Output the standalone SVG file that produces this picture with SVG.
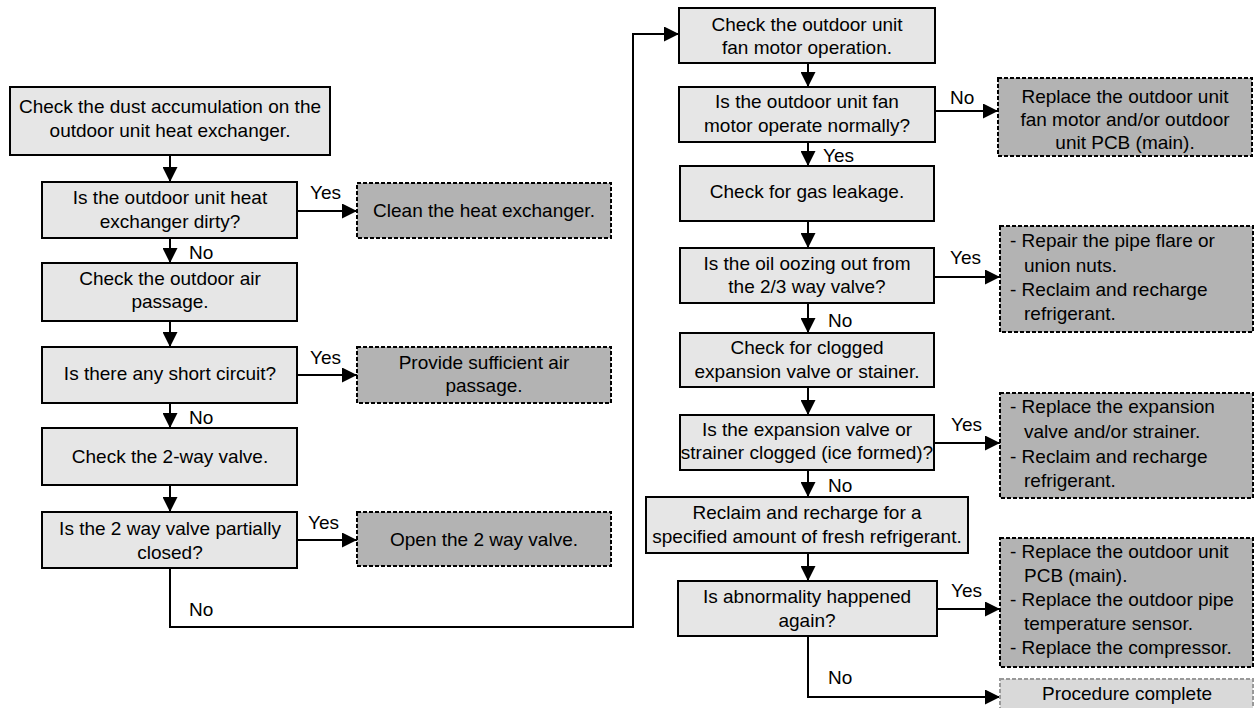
<svg xmlns="http://www.w3.org/2000/svg" width="1256" height="708" viewBox="0 0 1256 708">
<defs>
<style>
text{font-family:"Liberation Sans",Arial,sans-serif;font-size:19px;fill:#000}
.c{text-anchor:middle}
.p{fill:#e6e6e6;stroke:#000;stroke-width:2}
.a{fill:#b3b3b3;stroke:#000;stroke-width:2;stroke-dasharray:4 2}
.f{fill:#d9d9d9;stroke:#999;stroke-width:2;stroke-dasharray:4 2}
.ln{fill:none;stroke:#000;stroke-width:2;marker-end:url(#ah)}
</style>
<marker id="ah" viewBox="0 0 15 15" refX="15" refY="7.5" markerWidth="15" markerHeight="15" markerUnits="userSpaceOnUse" orient="auto">
<path d="M0,0 L15,7.5 L0,15 z" fill="#000"/>
</marker>
</defs>
<rect width="1256" height="708" fill="#fff"/>

<g id="connectors">
<line class="ln" x1="170" y1="155" x2="170" y2="182"/>
<line class="ln" x1="170" y1="238" x2="170" y2="263"/>
<line class="ln" x1="170" y1="321" x2="170" y2="347"/>
<line class="ln" x1="170" y1="403" x2="170" y2="428"/>
<line class="ln" x1="170" y1="485" x2="170" y2="512"/>
<line class="ln" x1="297" y1="211" x2="357" y2="211"/>
<line class="ln" x1="297" y1="375" x2="357" y2="375"/>
<line class="ln" x1="297" y1="540" x2="357" y2="540"/>
<polyline class="ln" points="170,568 170,627 633,627 633,34 679,34"/>
<line class="ln" x1="808" y1="63" x2="808" y2="87"/>
<line class="ln" x1="808" y1="142" x2="808" y2="166"/>
<line class="ln" x1="808" y1="221" x2="808" y2="248"/>
<line class="ln" x1="808" y1="303" x2="808" y2="333"/>
<line class="ln" x1="808" y1="387" x2="808" y2="415"/>
<line class="ln" x1="808" y1="470" x2="808" y2="497"/>
<line class="ln" x1="808" y1="553" x2="808" y2="581"/>
<line class="ln" x1="935" y1="111" x2="998" y2="111"/>
<line class="ln" x1="934" y1="277" x2="1000" y2="277"/>
<line class="ln" x1="934" y1="443" x2="1000" y2="443"/>
<line class="ln" x1="937" y1="609" x2="1000" y2="609"/>
<polyline class="ln" points="808,636 808,697 1000,697"/>
<text x="310" y="199">Yes</text>
<text x="189" y="259">No</text>
<text x="310" y="364">Yes</text>
<text x="189" y="424">No</text>
<text x="308" y="529">Yes</text>
<text x="189" y="616">No</text>
<text x="950" y="104">No</text>
<text x="823" y="162">Yes</text>
<text x="950" y="264">Yes</text>
<text x="828" y="327">No</text>
<text x="951" y="431">Yes</text>
<text x="828" y="492">No</text>
<text x="951" y="597">Yes</text>
<text x="828" y="684">No</text>
</g>

<g id="n1"><rect class="p" x="10" y="87" width="320" height="68"/>
<text class="c" x="170" y="113">Check the dust accumulation on the</text>
<text class="c" x="170" y="137">outdoor unit heat exchanger.</text></g>

<g id="n2"><rect class="p" x="42" y="182" width="255" height="56"/>
<text class="c" x="170" y="204">Is the outdoor unit heat</text>
<text class="c" x="170" y="228">exchanger dirty?</text></g>

<g id="n3"><rect class="p" x="42" y="263" width="255" height="58"/>
<text class="c" x="170" y="285">Check the outdoor air</text>
<text class="c" x="170" y="308">passage.</text></g>

<g id="n4"><rect class="p" x="42" y="347" width="255" height="56"/>
<text class="c" x="170" y="380">Is there any short circuit?</text></g>

<g id="n5"><rect class="p" x="42" y="428" width="255" height="57"/>
<text class="c" x="170" y="463">Check the 2-way valve.</text></g>

<g id="n6"><rect class="p" x="42" y="512" width="255" height="56"/>
<text class="c" x="170" y="535">Is the 2 way valve partially</text>
<text class="c" x="170" y="559">closed?</text></g>

<g id="l1"><rect class="a" x="357" y="183" width="254" height="55"/>
<text class="c" x="484" y="217">Clean the heat exchanger.</text></g>

<g id="l2"><rect class="a" x="357" y="347" width="254" height="56"/>
<text class="c" x="484" y="369">Provide sufficient air</text>
<text class="c" x="484" y="392">passage.</text></g>

<g id="l3"><rect class="a" x="357" y="512" width="254" height="54"/>
<text class="c" x="484" y="546">Open the 2 way valve.</text></g>

<g id="r1"><rect class="p" x="679" y="8" width="256" height="55"/>
<text class="c" x="807" y="31">Check the outdoor unit</text>
<text class="c" x="807" y="54">fan motor operation.</text></g>

<g id="r2"><rect class="p" x="679" y="87" width="256" height="55"/>
<text class="c" x="807" y="108">Is the outdoor unit fan</text>
<text class="c" x="807" y="132">motor operate normally?</text></g>

<g id="r3"><rect class="p" x="680" y="166" width="254" height="55"/>
<text class="c" x="807" y="198">Check for gas leakage.</text></g>

<g id="r4"><rect class="p" x="680" y="248" width="254" height="55"/>
<text class="c" x="807" y="270">Is the oil oozing out from</text>
<text class="c" x="807" y="293">the 2/3 way valve?</text></g>

<g id="r5"><rect class="p" x="680" y="333" width="254" height="54"/>
<text class="c" x="807" y="354">Check for clogged</text>
<text class="c" x="807" y="378">expansion valve or stainer.</text></g>

<g id="r6"><rect class="p" x="680" y="415" width="254" height="55"/>
<text class="c" x="807" y="436">Is the expansion valve or</text>
<text class="c" x="807" y="459">strainer clogged (ice formed)?</text></g>

<g id="r7"><rect class="p" x="646" y="497" width="322" height="56"/>
<text class="c" x="807" y="519">Reclaim and recharge for a</text>
<text class="c" x="807" y="543">specified amount of fresh refrigerant.</text></g>

<g id="r8"><rect class="p" x="678" y="581" width="259" height="55"/>
<text class="c" x="807" y="603">Is abnormality happened</text>
<text class="c" x="807" y="627">again?</text></g>

<g id="a1"><rect class="a" x="998" y="78" width="254" height="78"/>
<text class="c" x="1125" y="102.5">Replace the outdoor unit</text>
<text class="c" x="1125" y="125.5">fan motor and/or outdoor</text>
<text class="c" x="1125" y="148.5">unit PCB (main).</text></g>

<g id="a2"><rect class="a" x="1000" y="226" width="253" height="106"/>
<text x="1010" y="247">- Repair the pipe flare or</text>
<text x="1024" y="271.5">union nuts.</text>
<text x="1010" y="296">- Reclaim and recharge</text>
<text x="1024" y="320">refrigerant.</text></g>

<g id="a3"><rect class="a" x="1000" y="393" width="253" height="105"/>
<text x="1010" y="413">- Replace the expansion</text>
<text x="1024" y="438">valve and/or strainer.</text>
<text x="1010" y="462.5">- Reclaim and recharge</text>
<text x="1024" y="487">refrigerant.</text></g>

<g id="a4"><rect class="a" x="1000" y="538" width="253" height="129"/>
<text x="1010" y="558">- Replace the outdoor unit</text>
<text x="1024" y="582">PCB (main).</text>
<text x="1010" y="606">- Replace the outdoor pipe</text>
<text x="1024" y="630">temperature sensor.</text>
<text x="1010" y="654">- Replace the compressor.</text></g>

<g id="a5"><rect class="f" x="1000" y="679" width="253" height="36"/>
<text class="c" x="1127" y="700">Procedure complete</text></g>
</svg>
